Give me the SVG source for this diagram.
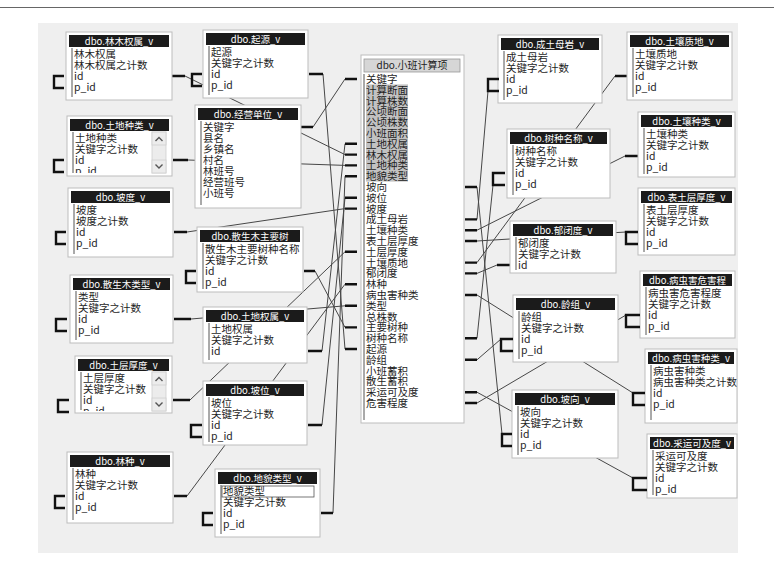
<svg xmlns="http://www.w3.org/2000/svg" width="774" height="572" viewBox="0 0 774 572">
<style>
text{font-family:"Noto Sans CJK SC","Liberation Sans",sans-serif}
.bx{fill:#fff;stroke:#bdbdbd;stroke-width:1}
.tb{fill:#1b1b1b}
.tt{fill:#fff;font-size:9.5px;text-anchor:middle}
.r{fill:#1e1e1e;font-size:10.5px}
.lb{stroke:#555;stroke-width:1}
.ln{stroke:#474747;stroke-width:1;fill:none}
.st{stroke:#111;stroke-width:2.4;fill:none}
.sb{fill:#ececec;stroke:#cfcfcf;stroke-width:0.8}
.ch{fill:none;stroke:#555;stroke-width:1.4}
</style>
<defs>
<clipPath id="c3"><rect x="67" y="116" width="105" height="57"/></clipPath>
<clipPath id="c9"><rect x="75" y="356" width="97" height="55"/></clipPath>
<clipPath id="c6"><rect x="197" y="227" width="106" height="65"/></clipPath>
<clipPath id="cr9"><rect x="645" y="349" width="92" height="74"/></clipPath>
</defs>
<rect x="0" y="0" width="774" height="572" fill="#fff"/>
<line x1="0" y1="7.5" x2="774" y2="7.5" stroke="#666" stroke-width="1"/>
<rect x="38" y="23" width="700" height="530" fill="#efefef"/>

<g id="connectors">
<path class="ln" d="M185,76 L345,154.6"/>
<path class="ln" d="M323,74 L345,349"/>
<path class="ln" d="M188,160 L345,165.4"/>
<path class="ln" d="M313,127 L345,79"/>
<path class="ln" d="M187,232 L345,208.6"/>
<path class="ln" d="M315,271 L345,327.4"/>
<path class="ln" d="M191,319 L345,305.8"/>
<path class="ln" d="M322,351 L345,143.8"/>
<path class="ln" d="M190,400 L345,251.8"/>
<path class="ln" d="M322,425 L345,197.8"/>
<path class="ln" d="M187,496 L345,284.2"/>
<path class="ln" d="M333,513 L345,176.2"/>
<path class="ln" d="M488,91 L477,219.4"/>
<path class="ln" d="M615,76 L477,262.6"/>
<path class="ln" d="M493,185 L477,338.2"/>
<path class="ln" d="M625,156 L477,230.2"/>
<path class="ln" d="M626,232 L477,241"/>
<path class="ln" d="M497,265 L477,273.4"/>
<path class="ln" d="M626,315 L477,403"/>
<path class="ln" d="M501,339 L477,359.8"/>
<path class="ln" d="M633,393 L477,295"/>
<path class="ln" d="M502,434 L477,187"/>
<path class="ln" d="M633,478 L477,392.2"/>
<path class="st" d="M172,76H185 M309,74H323 M173,160H188 M301,127H313 M174,232H187 M304,271H315 M174,319H191 M308,351H322 M173,400H190 M308,425H322 M174,496H187 M321,513H333 M615,76H627 M625,156H638 M497,265H510"/>
<path class="st" d="M345,79H357 M345,143.8H357 M345,154.6H357 M345,165.4H357 M345,176.2H357 M345,197.8H357 M345,208.6H357 M345,251.8H357 M345,284.2H357 M345,305.8H357 M345,327.4H357 M345,349H357"/>
<path class="st" d="M465,187H477 M465,219.4H477 M465,230.2H477 M465,241H477 M465,262.6H477 M465,273.4H477 M465,295H477 M465,338.2H477 M465,359.8H477 M465,392.2H477 M465,403H477"/>
</g>

<g id="n-main">
<rect class="bx" x="361" y="55" width="103" height="368"/>
<rect x="364" y="59" width="96" height="13" fill="#d6d6d6" stroke="#9a9a9a" stroke-width="0.8"/>
<text x="412" y="69" font-size="10px" fill="#222" text-anchor="middle">dbo.小班计算项</text>
<line class="lb" x1="364" y1="74" x2="364" y2="420"/>
<rect x="366" y="84.4" width="42" height="97.2" fill="#c2c2c2"/>
<text class="r" x="366" y="83">关键字</text>
<text class="r" x="366" y="93.8">计算断面</text>
<text class="r" x="366" y="104.6">计算株数</text>
<text class="r" x="366" y="115.4">公顷断面</text>
<text class="r" x="366" y="126.2">公顷株数</text>
<text class="r" x="366" y="137">小班面积</text>
<text class="r" x="366" y="147.8">土地权属</text>
<text class="r" x="366" y="158.6">林木权属</text>
<text class="r" x="366" y="169.4">土地种类</text>
<text class="r" x="366" y="180.2">地貌类型</text>
<text class="r" x="366" y="191">坡向</text>
<text class="r" x="366" y="201.8">坡位</text>
<text class="r" x="366" y="212.6">坡度</text>
<text class="r" x="366" y="223.4">成土母岩</text>
<text class="r" x="366" y="234.2">土壤种类</text>
<text class="r" x="366" y="245">表土层厚度</text>
<text class="r" x="366" y="255.8">土层厚度</text>
<text class="r" x="366" y="266.6">土壤质地</text>
<text class="r" x="366" y="277.4">郁闭度</text>
<text class="r" x="366" y="288.2">林种</text>
<text class="r" x="366" y="299">病虫害种类</text>
<text class="r" x="366" y="309.8">类型</text>
<text class="r" x="366" y="320.6">总株数</text>
<text class="r" x="366" y="331.4">主要树种</text>
<text class="r" x="366" y="342.2">树种名称</text>
<text class="r" x="366" y="353">起源</text>
<text class="r" x="366" y="363.8">龄组</text>
<text class="r" x="366" y="374.6">小班蓄积</text>
<text class="r" x="366" y="385.4">散生蓄积</text>
<text class="r" x="366" y="396.2">采运可及度</text>
<text class="r" x="366" y="407">危害程度</text>
</g>

<g id="n-linmuquanshu">
<rect class="bx" x="66" y="32" width="106" height="68"/>
<rect class="tb" x="69" y="35" width="100" height="12"/>
<text class="tt" x="119" y="44.5">dbo.林木权属_v</text>
<line class="lb" x1="72" y1="48" x2="72" y2="97"/>
<text class="r" x="74" y="58">林木权属</text>
<text class="r" x="74" y="69">林木权属之计数</text>
<text class="r" x="74" y="80">id</text>
<text class="r" x="74" y="91">p_id</text>
<path class="st" d="M64,76H54V88H64"/>
</g>

<g id="n-qiyuan">
<rect class="bx" x="203" y="30" width="105" height="68"/>
<rect class="tb" x="206" y="33" width="99" height="12"/>
<text class="tt" x="255.5" y="42.5">dbo.起源_v</text>
<line class="lb" x1="209" y1="46" x2="209" y2="95"/>
<text class="r" x="211" y="56">起源</text>
<text class="r" x="211" y="67">关键字之计数</text>
<text class="r" x="211" y="78">id</text>
<text class="r" x="211" y="89">p_id</text>
<path class="st" d="M202,74H192V86H202"/>
</g>

<g id="n-tudizhonglei">
<rect class="bx" x="67" y="116" width="105" height="60"/>
<rect class="tb" x="70" y="119" width="99" height="12"/>
<text class="tt" x="119.5" y="128.5">dbo.土地种类_v</text>
<line class="lb" x1="73" y1="132" x2="73" y2="173"/>
<g clip-path="url(#c3)">
<text class="r" x="75" y="142">土地种类</text>
<text class="r" x="75" y="153">关键字之计数</text>
<text class="r" x="75" y="164">id</text>
<text class="r" x="75" y="175">p_id</text>
</g>
<rect class="sb" x="152" y="132" width="14" height="41"/>
<rect class="sb" x="152" y="132" width="14" height="13"/>
<rect class="sb" x="152" y="160" width="14" height="13"/>
<polyline class="ch" points="155.5,141 159,137.5 162.5,141"/>
<polyline class="ch" points="155.5,164.5 159,168 162.5,164.5"/>
<path class="st" d="M64,160H54V172H64"/>
</g>

<g id="n-jingyingdanwei">
<rect class="bx" x="195" y="105" width="106" height="103"/>
<rect class="tb" x="198" y="108" width="100" height="12"/>
<text class="tt" x="248" y="117.5">dbo.经营单位_v</text>
<line class="lb" x1="201" y1="121" x2="201" y2="205"/>
<text class="r" x="203" y="131">关键字</text>
<text class="r" x="203" y="142">县名</text>
<text class="r" x="203" y="153">乡镇名</text>
<text class="r" x="203" y="164">村名</text>
<text class="r" x="203" y="175">林班号</text>
<text class="r" x="203" y="186">经营班号</text>
<text class="r" x="203" y="197">小班号</text>
</g>

<g id="n-podu">
<rect class="bx" x="68" y="188" width="105" height="69"/>
<rect class="tb" x="71" y="191" width="99" height="12"/>
<text class="tt" x="120.5" y="200.5">dbo.坡度_v</text>
<line class="lb" x1="74" y1="204" x2="74" y2="254"/>
<text class="r" x="76" y="214">坡度</text>
<text class="r" x="76" y="225">坡度之计数</text>
<text class="r" x="76" y="236">id</text>
<text class="r" x="76" y="247">p_id</text>
<path class="st" d="M66,232H56V244H66"/>
</g>

<g id="n-sanshengmuzhuyaoshu">
<rect class="bx" x="197" y="227" width="106" height="65"/>
<rect class="tb" x="200" y="230" width="100" height="12"/>
<text class="tt" x="250" y="239.5">dbo.散生木主要树</text>
<line class="lb" x1="203" y1="243" x2="203" y2="289"/>
<g clip-path="url(#c6)">
<text class="r" x="205" y="253">散生木主要树种名称</text>
<text class="r" x="205" y="264">关键字之计数</text>
<text class="r" x="205" y="275">id</text>
<text class="r" x="205" y="286">p_id</text>
</g>
<path class="st" d="M196,271H186V283H196"/>
</g>

<g id="n-sanshengmuleixing">
<rect class="bx" x="70" y="275" width="103" height="68"/>
<rect class="tb" x="73" y="278" width="97" height="12"/>
<text class="tt" x="121.5" y="287.5">dbo.散生木类型_v</text>
<line class="lb" x1="76" y1="291" x2="76" y2="340"/>
<text class="r" x="78" y="301">类型</text>
<text class="r" x="78" y="312">关键字之计数</text>
<text class="r" x="78" y="323">id</text>
<text class="r" x="78" y="334">p_id</text>
<path class="st" d="M67,319H56V331H67"/>
</g>

<g id="n-tudiquanshu">
<rect class="bx" x="203" y="307" width="104" height="56"/>
<rect class="tb" x="206" y="310" width="98" height="12"/>
<text class="tt" x="255" y="319.5">dbo.土地权属_v</text>
<line class="lb" x1="209" y1="323" x2="209" y2="360"/>
<text class="r" x="211" y="333">土地权属</text>
<text class="r" x="211" y="344">关键字之计数</text>
<text class="r" x="211" y="355">id</text>
</g>

<g id="n-tucenghoudu">
<rect class="bx" x="75" y="356" width="97" height="57"/>
<rect class="tb" x="78" y="359" width="91" height="12"/>
<text class="tt" x="123.5" y="368.5">dbo.土层厚度_v</text>
<line class="lb" x1="81" y1="372" x2="81" y2="410"/>
<g clip-path="url(#c9)">
<text class="r" x="83" y="382">土层厚度</text>
<text class="r" x="83" y="393">关键字之计数</text>
<text class="r" x="83" y="404">id</text>
<text class="r" x="83" y="415">p_id</text>
</g>
<rect class="sb" x="152" y="372" width="14" height="39"/>
<rect class="sb" x="152" y="372" width="14" height="13"/>
<rect class="sb" x="152" y="398" width="14" height="13"/>
<polyline class="ch" points="155.5,381 159,377.5 162.5,381"/>
<polyline class="ch" points="155.5,402.5 159,406 162.5,402.5"/>
<path class="st" d="M69,400H58V412H69"/>
</g>

<g id="n-powei">
<rect class="bx" x="203" y="381" width="104" height="64"/>
<rect class="tb" x="206" y="384" width="98" height="12"/>
<text class="tt" x="255" y="393.5">dbo.坡位_v</text>
<line class="lb" x1="209" y1="397" x2="209" y2="442"/>
<text class="r" x="211" y="407">坡位</text>
<text class="r" x="211" y="418">关键字之计数</text>
<text class="r" x="211" y="429">id</text>
<text class="r" x="211" y="440">p_id</text>
<path class="st" d="M202,425H191V437H202"/>
</g>

<g id="n-linzhong">
<rect class="bx" x="67" y="452" width="106" height="71"/>
<rect class="tb" x="70" y="455" width="100" height="12"/>
<text class="tt" x="120" y="464.5">dbo.林种_v</text>
<line class="lb" x1="73" y1="468" x2="73" y2="520"/>
<text class="r" x="75" y="478">林种</text>
<text class="r" x="75" y="489">关键字之计数</text>
<text class="r" x="75" y="500">id</text>
<text class="r" x="75" y="511">p_id</text>
<path class="st" d="M65,496H55V508H65"/>
</g>

<g id="n-dimaoleixing">
<rect class="bx" x="215" y="469" width="105" height="68"/>
<rect class="tb" x="218" y="472" width="99" height="12"/>
<text class="tt" x="267.5" y="481.5">dbo.地貌类型_v</text>
<line class="lb" x1="221" y1="485" x2="221" y2="534"/>
<rect x="222" y="486" width="92" height="11" fill="#fff" stroke="#555" stroke-width="0.8"/>
<text class="r" x="223" y="495">地貌类型</text>
<text class="r" x="223" y="506">关键字之计数</text>
<text class="r" x="223" y="517">id</text>
<text class="r" x="223" y="528">p_id</text>
<path class="st" d="M213,513H203V525H213"/>
</g>

<g id="n-chengtumuyan">
<rect class="bx" x="498" y="35" width="104" height="68"/>
<rect class="tb" x="501" y="38" width="98" height="12"/>
<text class="tt" x="550" y="47.5">dbo.成土母岩_v</text>
<line class="lb" x1="504" y1="51" x2="504" y2="100"/>
<text class="r" x="506" y="61">成土母岩</text>
<text class="r" x="506" y="72">关键字之计数</text>
<text class="r" x="506" y="83">id</text>
<text class="r" x="506" y="94">p_id</text>
<path class="st" d="M499,79H488V91H499"/>
</g>

<g id="n-turangzhidi">
<rect class="bx" x="627" y="32" width="105" height="68"/>
<rect class="tb" x="630" y="35" width="99" height="12"/>
<text class="tt" x="679.5" y="44.5">dbo.土壤质地_v</text>
<line class="lb" x1="633" y1="48" x2="633" y2="97"/>
<text class="r" x="635" y="58">土壤质地</text>
<text class="r" x="635" y="69">关键字之计数</text>
<text class="r" x="635" y="80">id</text>
<text class="r" x="635" y="91">p_id</text>
</g>

<g id="n-shuzhongmingcheng">
<rect class="bx" x="507" y="129" width="103" height="69"/>
<rect class="tb" x="510" y="132" width="97" height="12"/>
<text class="tt" x="558.5" y="141.5">dbo.树种名称_v</text>
<line class="lb" x1="513" y1="145" x2="513" y2="195"/>
<text class="r" x="515" y="155">树种名称</text>
<text class="r" x="515" y="166">关键字之计数</text>
<text class="r" x="515" y="177">id</text>
<text class="r" x="515" y="188">p_id</text>
<path class="st" d="M505,173H493V185H505"/>
</g>

<g id="n-turangzhonglei">
<rect class="bx" x="638" y="112" width="97" height="65"/>
<rect class="tb" x="641" y="115" width="91" height="12"/>
<text class="tt" x="686.5" y="124.5">dbo.土壤种类_v</text>
<line class="lb" x1="644" y1="128" x2="644" y2="174"/>
<text class="r" x="646" y="138">土壤种类</text>
<text class="r" x="646" y="149">关键字之计数</text>
<text class="r" x="646" y="160">id</text>
<text class="r" x="646" y="171">p_id</text>
</g>

<g id="n-biaotucenghoudu">
<rect class="bx" x="638" y="188" width="97" height="67"/>
<rect class="tb" x="641" y="191" width="91" height="12"/>
<text class="tt" x="686.5" y="200.5">dbo.表土层厚度_v</text>
<line class="lb" x1="644" y1="204" x2="644" y2="252"/>
<text class="r" x="646" y="214">表土层厚度</text>
<text class="r" x="646" y="225">关键字之计数</text>
<text class="r" x="646" y="236">id</text>
<text class="r" x="646" y="247">p_id</text>
<path class="st" d="M638,232H626V244H638"/>
</g>

<g id="n-yubidu">
<rect class="bx" x="510" y="221" width="106" height="52"/>
<rect class="tb" x="513" y="224" width="100" height="12"/>
<text class="tt" x="563" y="233.5">dbo.郁闭度_v</text>
<line class="lb" x1="516" y1="237" x2="516" y2="270"/>
<text class="r" x="518" y="247">郁闭度</text>
<text class="r" x="518" y="258">关键字之计数</text>
<text class="r" x="518" y="269">id</text>
</g>

<g id="n-bingchonghaiweihaicheng">
<rect class="bx" x="640" y="271" width="95" height="67"/>
<rect class="tb" x="643" y="274" width="89" height="12"/>
<text class="tt" x="687.5" y="283.5">dbo.病虫害危害程</text>
<line class="lb" x1="646" y1="287" x2="646" y2="335"/>
<text class="r" x="648" y="297">病虫害危害程度</text>
<text class="r" x="648" y="308">关键字之计数</text>
<text class="r" x="648" y="319">id</text>
<text class="r" x="648" y="330">p_id</text>
<path class="st" d="M640,315H626V327H640"/>
</g>

<g id="n-lingzu">
<rect class="bx" x="513" y="295" width="105" height="67"/>
<rect class="tb" x="516" y="298" width="99" height="12"/>
<text class="tt" x="565.5" y="307.5">dbo.龄组_v</text>
<line class="lb" x1="519" y1="311" x2="519" y2="359"/>
<text class="r" x="521" y="321">龄组</text>
<text class="r" x="521" y="332">关键字之计数</text>
<text class="r" x="521" y="343">id</text>
<text class="r" x="521" y="354">p_id</text>
<path class="st" d="M513,339H501V351H513"/>
</g>

<g id="n-bingchonghaizhonglei">
<rect class="bx" x="645" y="349" width="92" height="74"/>
<rect class="tb" x="648" y="352" width="86" height="12"/>
<text class="tt" x="691" y="361.5">dbo.病虫害种类_v</text>
<line class="lb" x1="651" y1="365" x2="651" y2="420"/>
<g clip-path="url(#cr9)">
<text class="r" x="653" y="375">病虫害种类</text>
<text class="r" x="653" y="386">病虫害种类之计数</text>
<text class="r" x="653" y="397">id</text>
<text class="r" x="653" y="408">p_id</text>
</g>
<path class="st" d="M645,393H633V405H645"/>
</g>

<g id="n-poxiang">
<rect class="bx" x="512" y="390" width="106" height="68"/>
<rect class="tb" x="515" y="393" width="100" height="12"/>
<text class="tt" x="565" y="402.5">dbo.坡向_v</text>
<line class="lb" x1="518" y1="406" x2="518" y2="455"/>
<text class="r" x="520" y="416">坡向</text>
<text class="r" x="520" y="427">关键字之计数</text>
<text class="r" x="520" y="438">id</text>
<text class="r" x="520" y="449">p_id</text>
<path class="st" d="M512,434H502V446H512"/>
</g>

<g id="n-caiyunkejidu">
<rect class="bx" x="647" y="434" width="90" height="64"/>
<rect class="tb" x="650" y="437" width="84" height="12"/>
<text class="tt" x="692" y="446.5">dbo.采运可及度_v</text>
<line class="lb" x1="653" y1="450" x2="653" y2="495"/>
<text class="r" x="655" y="460">采运可及度</text>
<text class="r" x="655" y="471">关键字之计数</text>
<text class="r" x="655" y="482">id</text>
<text class="r" x="655" y="493">p_id</text>
<path class="st" d="M647,478H633V490H647"/>
</g>
</svg>
